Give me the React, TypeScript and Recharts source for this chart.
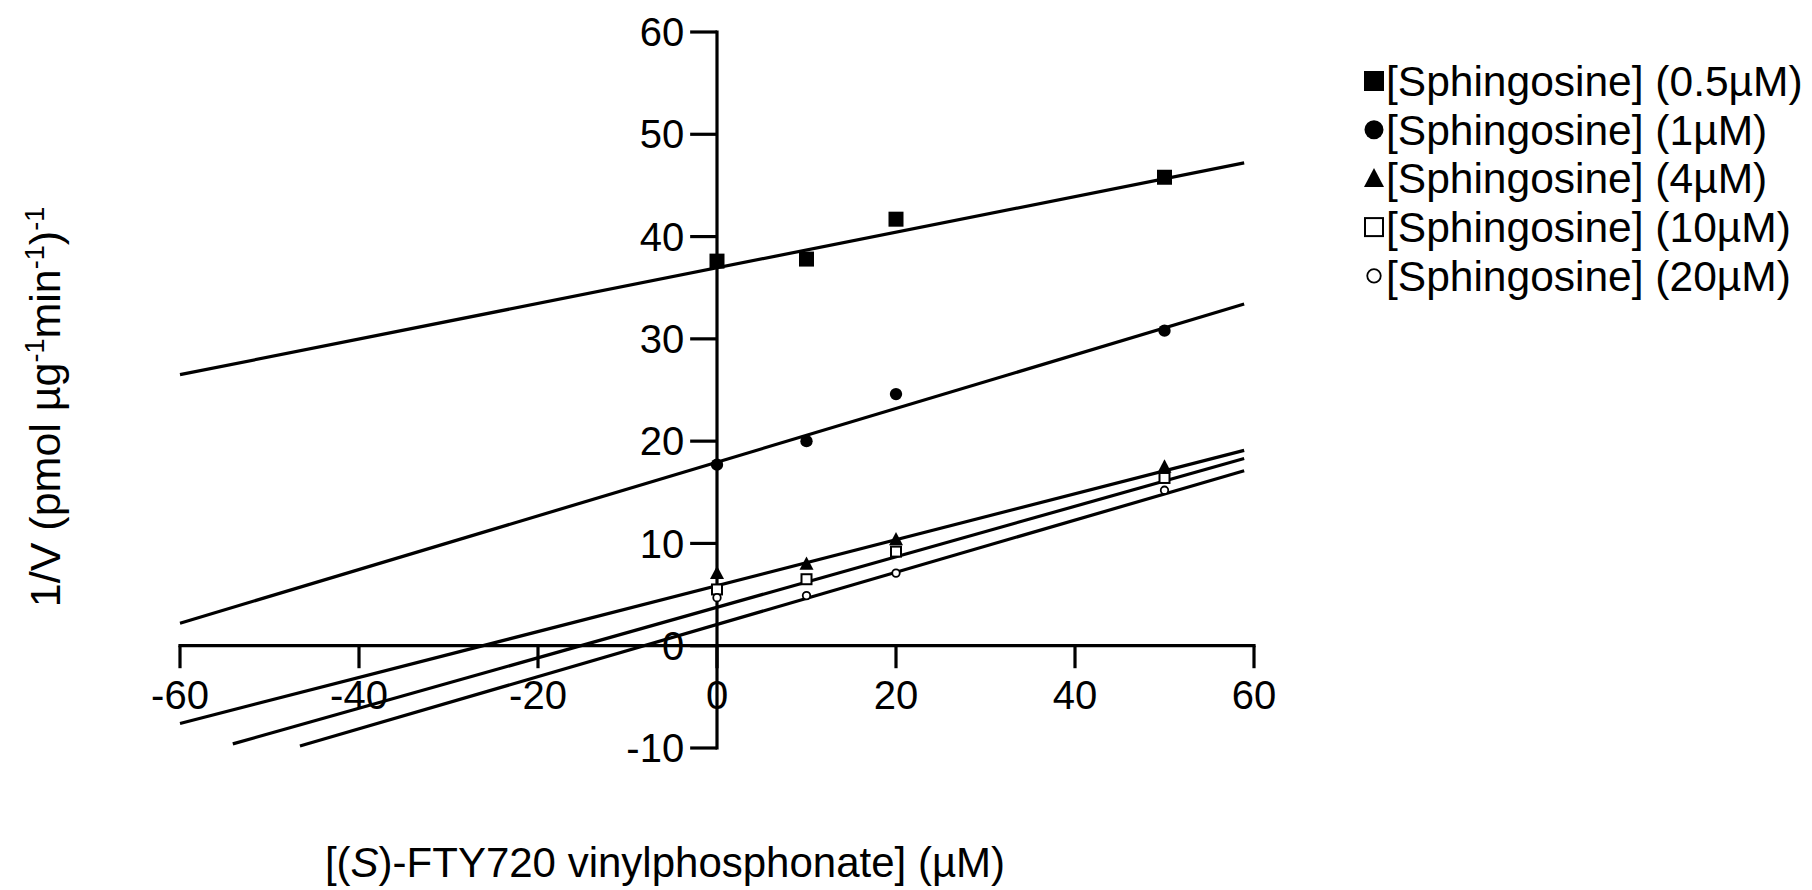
import React from 'react';
import { ScatterChart, Scatter, XAxis, YAxis, ReferenceLine, Legend } from 'recharts';

const W = 1812;
const H = 890;
const FONT = '"Liberation Sans", Arial, Helvetica, sans-serif';

// ---- data ----
const xTicks = [-60, -40, -20, 0, 20, 40, 60];
const yTicks = [-10, 0, 10, 20, 30, 40, 50, 60];
const concentrations = [0, 10, 20, 50];

const sph05 = [37.6, 37.8, 41.7, 45.8];
const sph1 = [17.7, 20.0, 24.6, 30.8];
const sph4 = [7.1, 8.0, 10.4, 17.5];
const sph10 = [5.5, 6.5, 9.2, 16.4];
const sph20 = [4.7, 4.9, 7.1, 15.2];

// fitted straight lines: end points
const fit05 = [{ x: -60, y: 26.5 }, { x: 58.9, y: 47.2 }];
const fit1 = [{ x: -60, y: 2.2 }, { x: 58.9, y: 33.4 }];
const fit4 = [{ x: -60, y: -7.6 }, { x: 58.9, y: 19.1 }];
const fit10 = [{ x: -54.1, y: -9.6 }, { x: 58.9, y: 18.3 }];
const fit20 = [{ x: -46.6, y: -9.8 }, { x: 58.9, y: 17.1 }];

const seriesNames = [
  '[Sphingosine] (0.5µM)',
  '[Sphingosine] (1µM)',
  '[Sphingosine] (4µM)',
  '[Sphingosine] (10µM)',
  '[Sphingosine] (20µM)',
];
const markerKinds = ['square', 'circle', 'triangle', 'openSquare', 'openCircle'];

const seriesValues = [sph05, sph1, sph4, sph10, sph20];
const fits = [fit05, fit1, fit4, fit10, fit20];

const toPoints = (vals: number[]) => concentrations.map((x, i) => ({ x, y: vals[i] }));

function Marker({ kind, cx, cy, size }: { kind: string; cx: number; cy: number; size: number }) {
  const h = size / 2;
  switch (kind) {
    case 'square':
      return <rect x={cx - h} y={cy - h} width={size} height={size} fill="#000" />;
    case 'circle':
      return <circle cx={cx} cy={cy} r={h * 0.95} fill="#000" />;
    case 'triangle':
      return (
        <polygon
          points={`${cx},${cy - h * 1.05} ${cx + h},${cy + h * 0.85} ${cx - h},${cy + h * 0.85}`}
          fill="#000"
        />
      );
    case 'openSquare':
      return (
        <rect x={cx - h + 1} y={cy - h + 1} width={size - 2} height={size - 2} fill="#fff" stroke="#000" strokeWidth={2} />
      );
    case 'openCircle':
      return <circle cx={cx} cy={cy} r={h * 0.75} fill="#fff" stroke="#000" strokeWidth={1.8} />;
    default:
      return null;
  }
}

const pointSizes = [15, 13, 14, 12, 10];

const renderLegend = () => (
  <svg width={470} height={260} style={{ overflow: 'visible' }}>
    {seriesNames.map((name, i) => {
      const cy = 31 + i * 48.7;
      return (
        <g key={name}>
          <Marker kind={markerKinds[i]} cx={24} cy={cy} size={i === 4 ? 18 : 20} />
          <text x={36} y={cy + 15} fontSize={42.5} fontFamily={FONT} fill="#000">
            {name}
          </text>
        </g>
      );
    })}
  </svg>
);

export default function App() {
  const tickStyle = { fill: '#000', fontSize: 40, fontFamily: FONT };
  return (
    <div style={{ position: 'absolute', left: 0, top: 0, width: W, height: H, background: '#fff' }}>
      <ScatterChart width={W} height={H} margin={{ top: 32, right: 558, bottom: 142, left: 180 }}>
        <XAxis type="number" dataKey="x" domain={[-60, 60]} hide height={0} />
        <YAxis type="number" dataKey="y" domain={[-10, 60]} hide width={0} />

        {/* axis lines through the origin */}
        <ReferenceLine
          segment={[{ x: -60, y: 0 }, { x: 60, y: 0 }]}
          stroke="#000"
          strokeWidth={3.2}
          strokeLinecap="square"
        />
        <ReferenceLine
          segment={[{ x: 0, y: -10 }, { x: 0, y: 60 }]}
          stroke="#000"
          strokeWidth={3.2}
          strokeLinecap="square"
        />
        {xTicks.map((t) => (
          <ReferenceLine
            key={'xt' + t}
            segment={[{ x: t, y: 0 }, { x: t, y: -2.2 }]}
            stroke="#000"
            strokeWidth={3.2}
            label={{ value: String(t), position: 'bottom', offset: 12, ...tickStyle }}
          />
        ))}
        {yTicks.map((t) => (
          <ReferenceLine
            key={'yt' + t}
            segment={[{ x: -3, y: t }, { x: 0, y: t }]}
            stroke="#000"
            strokeWidth={3.2}
            label={{ value: String(t), position: 'left', offset: 6, ...tickStyle }}
          />
        ))}

        {fits.map((f, i) => (
          <Scatter
            key={'fit' + i}
            data={f}
            line={{ stroke: '#000', strokeWidth: 3.2 }}
            shape={() => <g />}
            legendType="none"
            isAnimationActive={false}
          />
        ))}
        {seriesValues.map((vals, i) => (
          <Scatter
            key={'pts' + i}
            name={seriesNames[i]}
            data={toPoints(vals)}
            isAnimationActive={false}
            shape={(p: any) => <Marker kind={markerKinds[i]} cx={p.cx} cy={p.cy} size={pointSizes[i]} />}
          />
        ))}

        <Legend
          layout="horizontal"
          align="center"
          verticalAlign="middle"
          content={renderLegend}
          wrapperStyle={{ position: 'absolute', left: 1350, top: 50, width: 470, height: 260 }}
        />
      </ScatterChart>

      <svg
        width={W}
        height={H}
        style={{ position: 'absolute', left: 0, top: 0, pointerEvents: 'none' }}
      >
        <text
          transform="rotate(-90 60 407)"
          x={60}
          y={407}
          textAnchor="middle"
          fontSize={43}
          fontFamily={FONT}
          fill="#000"
        >
          1/V (pmol µg
          <tspan dy={-16} fontSize={27}>-1</tspan>
          <tspan dy={16}>min</tspan>
          <tspan dy={-16} fontSize={27}>-1</tspan>
          <tspan dy={16}>)</tspan>
          <tspan dy={-16} fontSize={27}>-1</tspan>
        </text>
        <text x={665} y={877} textAnchor="middle" fontSize={42} fontFamily={FONT} fill="#000">
          [(<tspan fontStyle="italic">S</tspan>)-FTY720 vinylphosphonate] (µM)
        </text>
      </svg>
    </div>
  );
}
